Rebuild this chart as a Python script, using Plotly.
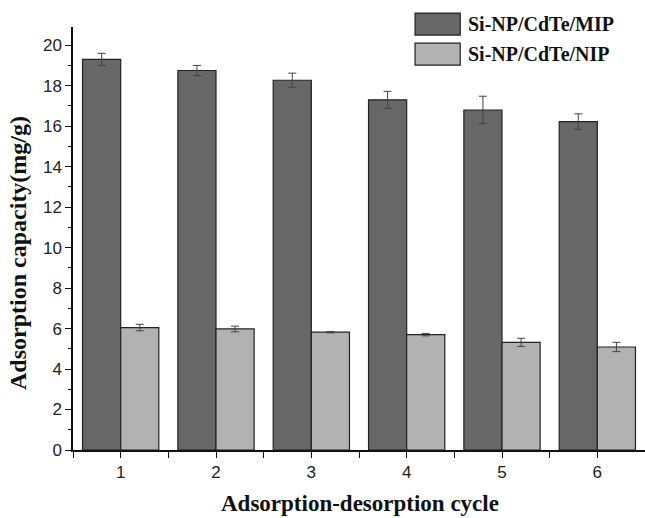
import plotly.graph_objects as go

cycles = [1, 2, 3, 4, 5, 6]
mip_values = [19.3, 18.75, 18.27, 17.3, 16.8, 16.22]
mip_errors = [0.3, 0.25, 0.35, 0.42, 0.68, 0.39]
nip_values = [6.05, 5.98, 5.82, 5.70, 5.32, 5.09]
nip_errors = [0.16, 0.14, 0.03, 0.06, 0.2, 0.23]
series_names = ["Si-NP/CdTe/MIP", "Si-NP/CdTe/NIP"]
colors = ["#676767", "#b2b2b2"]

fig = go.Figure()
for name, vals, errs, col in [
    (series_names[0], mip_values, mip_errors, colors[0]),
    (series_names[1], nip_values, nip_errors, colors[1]),
]:
    fig.add_trace(go.Bar(
        x=cycles, y=vals, name=name,
        marker=dict(color=col, line=dict(color="#222222", width=1.2)),
        error_y=dict(type="data", array=errs, visible=True, color="#444444", thickness=1, width=4),
        showlegend=False,
    ))

serif = "Liberation Serif, Times New Roman, serif"
sans = "Liberation Sans, Arial, sans-serif"

fig.update_layout(
    width=645, height=518,
    margin=dict(l=73, r=0, t=27, b=68),
    paper_bgcolor="white", plot_bgcolor="white",
    barmode="group", bargap=0.2, bargroupgap=0,
    xaxis=dict(
        range=[0.5, 6.5], tickvals=cycles, ticktext=[str(c) for c in cycles],
        showline=True, linecolor="#111111", linewidth=1.5,
        ticks="outside", ticklen=6, tickcolor="#111111", tickwidth=1.2,
        minor=dict(tick0=0.5, dtick=1, ticks="outside", ticklen=6, tickcolor="#111111", tickwidth=1.2),
        showgrid=False, zeroline=False,
        tickfont=dict(family=sans, size=17, color="#222222"),
    ),
    yaxis=dict(
        range=[0, 20.9], tick0=0, dtick=2,
        showline=True, linecolor="#111111", linewidth=1.5,
        ticks="outside", ticklen=6, tickcolor="#111111", tickwidth=1.2,
        minor=dict(tick0=0, dtick=1, ticks="outside", ticklen=3, tickcolor="#111111", tickwidth=1.2),
        showgrid=False, zeroline=False,
        tickfont=dict(family=sans, size=17, color="#222222"),
    ),
)

# axis titles
fig.add_annotation(text="Adsorption-desorption cycle", xref="paper", yref="paper",
                   x=0.502, y=-0.126, xanchor="center", yanchor="middle", showarrow=False,
                   font=dict(family=serif, size=23, color="#111111", weight="bold"))
fig.add_annotation(text="Adsorption capacity(mg/g)", xref="paper", yref="paper",
                   x=-0.095, y=0.465, xanchor="center", yanchor="middle", showarrow=False,
                   textangle=-90,
                   font=dict(family=serif, size=24, color="#111111", weight="bold"))

# custom legend
leg = [(series_names[0], colors[0], 1.033, 0.981), (series_names[1], colors[1], 0.962, 0.910)]
for name, col, ytop, ybot in leg:
    fig.add_shape(type="rect", xref="paper", yref="paper", x0=0.598, x1=0.677, y0=ybot, y1=ytop,
                  fillcolor=col, line=dict(color="#222222", width=1.2))
    fig.add_annotation(text=name, xref="paper", yref="paper", x=0.687, y=(ytop + ybot) / 2,
                       xanchor="left", yanchor="middle", showarrow=False,
                       font=dict(family=serif, size=20, color="#111111", weight="bold"))

fig.write_html("out.html")
